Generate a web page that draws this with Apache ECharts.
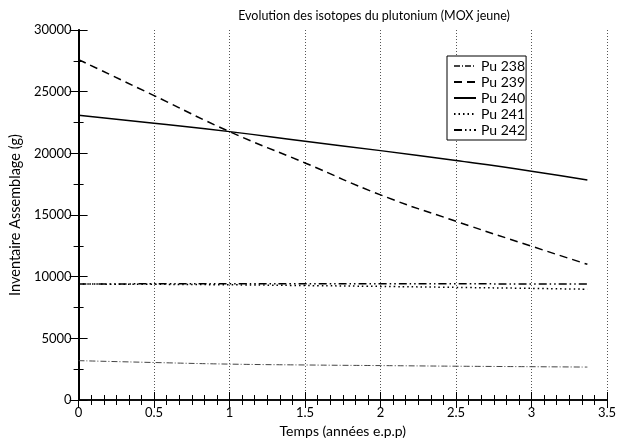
<!DOCTYPE html>
<html>
<head>
<meta charset="utf-8">
<script src="https://cdn.jsdelivr.net/npm/echarts@6/dist/echarts.min.js"></script>
<style>html,body{margin:0;padding:0;background:#fff;}#c{width:631px;height:443px;}</style>
</head>
<body>
<div id="c"></div>
<script>
var timeYears = [0, 0.5, 1, 1.5, 2, 2.5, 3, 3.37];
var pu238 = [3190, 3040, 2910, 2840, 2790, 2740, 2700, 2670];
var pu239 = [27600, 24680, 21760, 19220, 16630, 14490, 12470, 11000];
var pu240 = [23090, 22440, 21760, 20980, 20220, 19410, 18550, 17840];
var pu241 = [9400, 9380, 9340, 9280, 9210, 9130, 9050, 8980];
var pu242 = [9400, 9420, 9430, 9430, 9430, 9420, 9410, 9400];
var seriesNames = ['Pu 238', 'Pu 239', 'Pu 240', 'Pu 241', 'Pu 242'];
var titleText = 'Evolution des isotopes du plutonium (MOX jeune)';
var xName = 'Temps (années e.p.p)';
var yName = 'Inventaire Assemblage (g)';

var FONT = 'Lato';
function pairs(ys){ return timeYears.map(function(x,i){ return [x, ys[i]]; }); }
var styles = [
  {color:'#444', width:1, type:[6,2,1,2]},
  {color:'#000', width:1.5, type:[8,5]},
  {color:'#000', width:1.5, type:'solid'},
  {color:'#000', width:1.5, type:[1.5,3]},
  {color:'#000', width:1.5, type:[8,3,1.5,3,1.5,3]}
];
var datas = [pu238, pu239, pu240, pu241, pu242];
var series = datas.map(function(d,i){
  return {
    name: seriesNames[i], type:'line', data: pairs(d), symbol:'none', smooth:true,
    xAxisIndex:0, yAxisIndex:0,
    lineStyle: {color: styles[i].color, width: styles[i].width, type: styles[i].type},
    itemStyle: {color: styles[i].color},
    animation:false
  };
});
function tick(len){ return {show:true, inside:true, length:len, lineStyle:{color:'#000', width:1}}; }
var chart = echarts.init(document.getElementById('c'));
chart.setOption({
  animation:false,
  backgroundColor:'#fff',
  title: {text: titleText, left: 369, textAlign:'center', top: 4,
    textStyle:{fontFamily:FONT, fontSize:12.5, fontWeight:'normal', color:'#000'}},
  legend: {orient:'vertical', left:447, top:56, itemWidth:22, itemHeight:14, itemGap:2,
    padding:[3,1,3,6], borderColor:'#000', borderWidth:1, backgroundColor:'#fff',
    itemStyle:{color:'transparent', borderWidth:0, opacity:0},
    textStyle:{fontFamily:FONT, fontSize:14, color:'#000', padding:0}, data: seriesNames},
  grid: {left:75, right:24, top:30, bottom:42, containLabel:false},
  xAxis: [
    {type:'value', min:0, max:3.5, interval:0.5, position:'bottom',
     name:xName, nameLocation:'middle', nameGap:24,
     nameTextStyle:{fontFamily:FONT, fontSize:14, color:'#000'},
     axisLine:{show:true, lineStyle:{color:'#000', width:1.5}},
     axisTick: tick(8),
     axisLabel:{fontFamily:FONT, fontSize:13, color:'#000', margin:6,
       formatter:function(v){ return String(v); }},
     splitLine:{show:true, lineStyle:{color:'#555', type:[1,2], width:1}}},
    {type:'value', min:0, max:3.5, interval:0.5, position:'top',
     axisLine:{show:true, lineStyle:{color:'#000', width:1.5}},
     axisTick: tick(8), axisLabel:{show:false}, splitLine:{show:false}},
    {type:'value', min:0, max:3.5, interval:0.5/6, position:'bottom',
     axisLine:{show:false}, axisTick: tick(5), axisLabel:{show:false}, splitLine:{show:false}},
    {type:'value', min:0, max:3.5, interval:0.5/6, position:'top',
     axisLine:{show:false}, axisTick: tick(5), axisLabel:{show:false}, splitLine:{show:false}}
  ],
  yAxis: [
    {type:'value', min:0, max:30000, interval:5000, position:'left',
     name:yName, nameLocation:'middle', nameGap:50, nameRotate:90,
     nameTextStyle:{fontFamily:FONT, fontSize:14.5, color:'#000'},
     axisLine:{show:true, lineStyle:{color:'#000', width:2}},
     axisTick: tick(9),
     axisLabel:{fontFamily:FONT, fontSize:13, color:'#000', margin:7,
       formatter:function(v){ return String(v); }},
     splitLine:{show:false}},
    {type:'value', min:0, max:30000, interval:5000, position:'right',
     axisLine:{show:true, lineStyle:{color:'#000', width:1.5}},
     axisTick: tick(9), axisLabel:{show:false}, splitLine:{show:false}},
    {type:'value', min:0, max:30000, interval:2500, position:'left',
     axisLine:{show:false}, axisTick: tick(5), axisLabel:{show:false}, splitLine:{show:false}},
    {type:'value', min:0, max:30000, interval:2500, position:'right',
     axisLine:{show:false}, axisTick: tick(5), axisLabel:{show:false}, splitLine:{show:false}}
  ],
  series: series
});
</script>
</body>
</html>
